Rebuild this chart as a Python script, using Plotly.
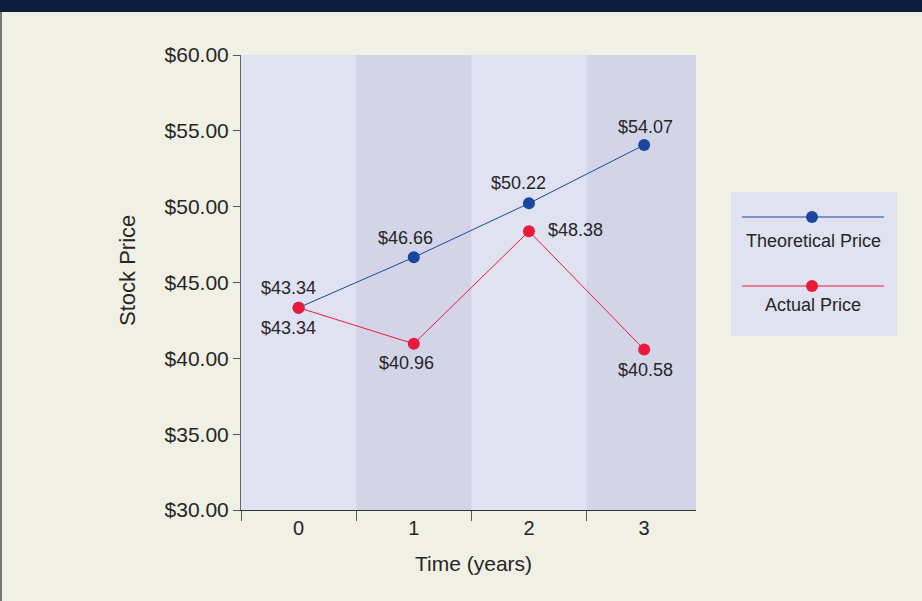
import plotly.graph_objects as go

# ---- data ----
years = [0, 1, 2, 3]
year_labels = ["0", "1", "2", "3"]
theoretical = [43.34, 46.66, 50.22, 54.07]
actual = [43.34, 40.96, 48.38, 40.58]
y_ticks = [30, 35, 40, 45, 50, 55, 60]
y_tick_labels = ["$30.00", "$35.00", "$40.00", "$45.00", "$50.00", "$55.00", "$60.00"]
series_names = ["Theoretical Price", "Actual Price"]

# ---- style ----
W, H = 922, 601
L, R, T, B = 241, 696, 55, 510
PW, PH = R - L, B - T
BG = "#f0f0e5"
BAND_LIGHT = "#e0e1f1"
BAND_DARK = "#d4d4e9"
BLUE = "#1a46a0"
RED = "#ea1a3c"
TXT = "#262626"
FONT = "Liberation Sans, Arial, sans-serif"
XMAX = 3.45


def px(x):
    return (x - L) / PW


def py(y):
    return (B - y) / PH


fig = go.Figure()

fig.add_trace(go.Scatter(
    x=years, y=theoretical, mode="lines+markers", name=series_names[0],
    line=dict(color=BLUE, width=1), marker=dict(color=BLUE, size=12),
    showlegend=False, hoverinfo="skip"))
fig.add_trace(go.Scatter(
    x=years, y=actual, mode="lines+markers", name=series_names[1],
    line=dict(color=RED, width=1), marker=dict(color=RED, size=12),
    showlegend=False, hoverinfo="skip"))

shapes = []
# alternating bands
for i, yr in enumerate(years):
    if i % 2 == 1:
        shapes.append(dict(type="rect", xref="x", yref="paper",
                           x0=yr - 0.5, x1=min(yr + 0.5, XMAX), y0=0, y1=1,
                           fillcolor=BAND_DARK, line=dict(width=0), layer="below"))
# top bar
shapes.append(dict(type="rect", xref="paper", yref="paper",
                   x0=px(0), x1=px(W), y0=py(12), y1=py(0),
                   fillcolor="#0b1e3c", line=dict(width=0)))
# left border
shapes.append(dict(type="line", xref="paper", yref="paper",
                   x0=px(1), x1=px(1), y0=py(12), y1=py(H),
                   line=dict(color="#777777", width=2)))
# legend box
shapes.append(dict(type="rect", xref="paper", yref="paper",
                   x0=px(731), x1=px(897), y0=py(336), y1=py(192),
                   fillcolor=BAND_LIGHT, line=dict(width=0)))

annotations = []
legend_rows = [(series_names[0], BLUE, 217, 241), (series_names[1], RED, 286, 305)]
for name, col, ly, ty in legend_rows:
    shapes.append(dict(type="line", xref="paper", yref="paper",
                       x0=px(742), x1=px(884), y0=py(ly), y1=py(ly),
                       line=dict(color=col, width=1)))
    shapes.append(dict(type="circle", xref="paper", yref="paper",
                       x0=px(806), x1=px(818), y0=py(ly + 6), y1=py(ly - 6),
                       fillcolor=col, line=dict(width=0)))
    annotations.append(dict(xref="paper", yref="paper", x=px(813), y=py(ty),
                            text=name, showarrow=False, xanchor="center",
                            yanchor="middle", font=dict(size=18, color=TXT, family=FONT)))

# data labels
theo_shift = [(-10, 20), (-8, 19), (-10, 20), (1, 18)]
act_shift = [(-10, -20), (-7, -19), (47, 1), (1, -20)]
for i, yr in enumerate(years):
    dx, dy = theo_shift[i]
    annotations.append(dict(x=yr, y=theoretical[i], xref="x", yref="y",
                            text=f"${theoretical[i]:.2f}", showarrow=False,
                            xshift=dx, yshift=dy,
                            font=dict(size=18, color=TXT, family=FONT)))
    dx, dy = act_shift[i]
    annotations.append(dict(x=yr, y=actual[i], xref="x", yref="y",
                            text=f"${actual[i]:.2f}", showarrow=False,
                            xshift=dx, yshift=dy,
                            font=dict(size=18, color=TXT, family=FONT)))

# y title
annotations.append(dict(xref="paper", yref="paper", x=px(127), y=py(271),
                        text="Stock Price", textangle=-90, showarrow=False,
                        xanchor="center", yanchor="middle",
                        font=dict(size=22, color=TXT, family=FONT)))
# x title
annotations.append(dict(xref="paper", yref="paper", x=px(473), y=py(563),
                        text="Time (years)", showarrow=False,
                        xanchor="center", yanchor="middle",
                        font=dict(size=21, color=TXT, family=FONT)))

fig.update_layout(
    width=W, height=H,
    margin=dict(l=L, r=W - R, t=T, b=H - B, pad=0),
    paper_bgcolor=BG, plot_bgcolor=BAND_LIGHT,
    shapes=shapes, annotations=annotations,
    showlegend=False,
    xaxis=dict(range=[-0.5, XMAX], tickmode="array", tickvals=years,
               ticktext=year_labels, ticks="", showgrid=False, zeroline=False,
               showline=True, linecolor="#333333", linewidth=1,
               tickfont=dict(size=20, color=TXT, family=FONT),
               minor=dict(tickmode="array", tickvals=[-0.5, 0.5, 1.5, 2.5],
                          ticks="outside", ticklen=10, tickcolor="#555555",
                          tickwidth=1, showgrid=False),
               fixedrange=True),
    yaxis=dict(range=[30, 60], tickmode="array", tickvals=y_ticks,
               ticktext=y_tick_labels, ticks="outside", ticklen=7,
               tickcolor="#555555", showgrid=False, zeroline=False,
               showline=True, linecolor="#666666", linewidth=1,
               tickfont=dict(size=21, color=TXT, family=FONT),
               fixedrange=True),
)

fig.write_html("out.html", config={"displayModeBar": False, "staticPlot": True},
               post_script="document.body.style.margin='0px';document.body.style.overflow='hidden';")
